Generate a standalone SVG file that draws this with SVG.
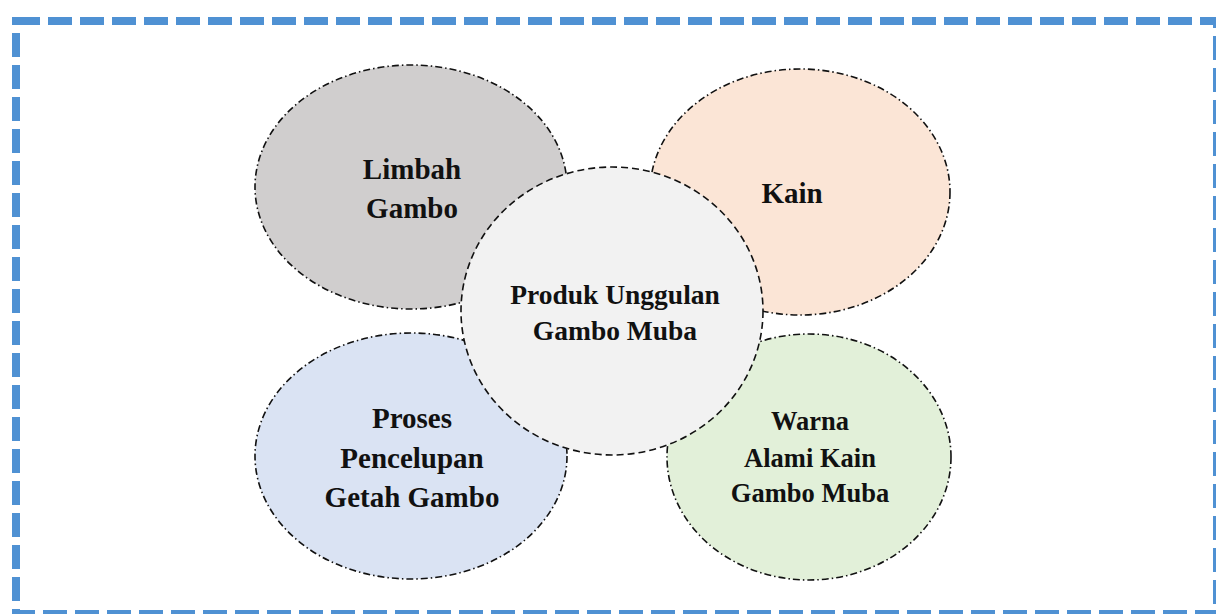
<svg xmlns="http://www.w3.org/2000/svg" width="1216" height="614" viewBox="0 0 1216 614">
<style>
.frame{fill:none;stroke:#4f91d3;stroke-width:8;stroke-dasharray:24 8}
.outer{stroke:#111;stroke-width:1.6;stroke-dasharray:7 3 1.5 3}
.center{stroke:#111;stroke-width:1.6;stroke-dasharray:7 4}
text{font-family:"Liberation Serif","Times New Roman",serif;font-weight:bold;fill:#111;text-anchor:middle}
</style>
<rect width="1216" height="614" fill="#fff"/>
<rect class="frame" x="16" y="21" width="1201" height="593"/>
<g id="limbah">
<ellipse class="outer" cx="411" cy="187" rx="156" ry="122" fill="#d0cece"/>
<text x="412" y="179" font-size="29">Limbah</text>
<text x="412" y="218" font-size="29">Gambo</text>
</g>
<g id="kain">
<ellipse class="outer" cx="800" cy="192" rx="150" ry="123" fill="#fbe5d6"/>
<text x="792" y="203" font-size="29">Kain</text>
</g>
<g id="proses">
<ellipse class="outer" cx="411" cy="456" rx="156" ry="123" fill="#dae3f3"/>
<text x="412" y="428" font-size="29">Proses</text>
<text x="412" y="468" font-size="29">Pencelupan</text>
<text x="412" y="507" font-size="29">Getah Gambo</text>
</g>
<g id="warna">
<ellipse class="outer" cx="809" cy="457" rx="142" ry="123" fill="#e2f0d9"/>
<text x="810" y="430" font-size="26.5">Warna</text>
<text x="810" y="467" font-size="26.5">Alami Kain</text>
<text x="810" y="502" font-size="26.5">Gambo Muba</text>
</g>
<g id="produk">
<ellipse class="center" cx="612" cy="311" rx="151" ry="144" fill="#f2f2f2"/>
<text x="615" y="304" font-size="27.5">Produk Unggulan</text>
<text x="615" y="340" font-size="27.5">Gambo Muba</text>
</g>
<g id="connectors"></g>
</svg>
